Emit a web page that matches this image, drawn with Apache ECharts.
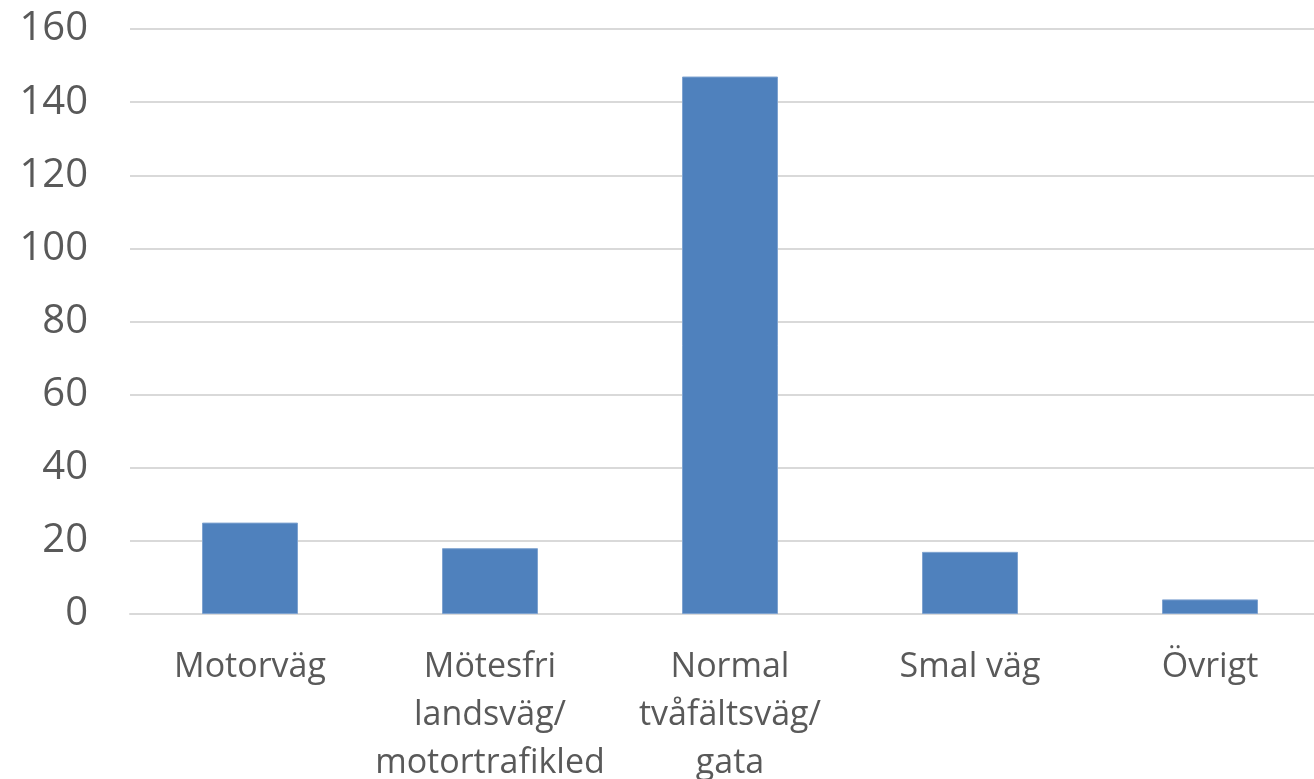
<!DOCTYPE html>
<html>
<head>
<meta charset="utf-8">
<script src="https://cdn.jsdelivr.net/npm/echarts@6/dist/echarts.min.js"></script>
<style>html,body{margin:0;padding:0;background:#fff;}#c{width:1314px;height:779px;}</style>
</head>
<body>
<div id="c"></div>
<script>
const categories = ["Motorväg", "Mötesfri\nlandsväg/\nmotortrafikled", "Normal\ntvåfältsväg/\ngata", "Smal väg", "Övrigt"];
const values = [25, 18, 147, 17, 4];
const yTicks = [0, 20, 40, 60, 80, 100, 120, 140, 160];

const chart = echarts.init(document.getElementById('c'), null, {renderer: 'canvas'});
chart.setOption({
  animation: false,
  grid: {left: 130, top: 29, width: 1200, height: 585, outerBoundsMode: 'none', containLabel: false},
  xAxis: {
    type: 'category',
    data: categories,
    axisLine: {show: true, lineStyle: {color: '#D9D9D9', width: 2}},
    axisTick: {show: false},
    axisLabel: {color: '#595959', fontFamily: 'Open Sans', fontSize: 34, lineHeight: 48, margin: 29, interval: 0}
  },
  yAxis: {
    type: 'value',
    min: yTicks[0],
    max: yTicks[yTicks.length - 1],
    interval: 20,
    axisLine: {show: false},
    axisTick: {show: false},
    splitLine: {lineStyle: {color: '#D9D9D9', width: 2}},
    axisLabel: {color: '#595959', fontFamily: 'Open Sans', fontSize: 40, margin: 42}
  },
  series: [{
    type: 'bar',
    data: values,
    barWidth: '40%',
    itemStyle: {color: '#4F81BD', borderColor: '#7FA3D0', borderWidth: 1}
  }]
});
</script>
</body>
</html>
